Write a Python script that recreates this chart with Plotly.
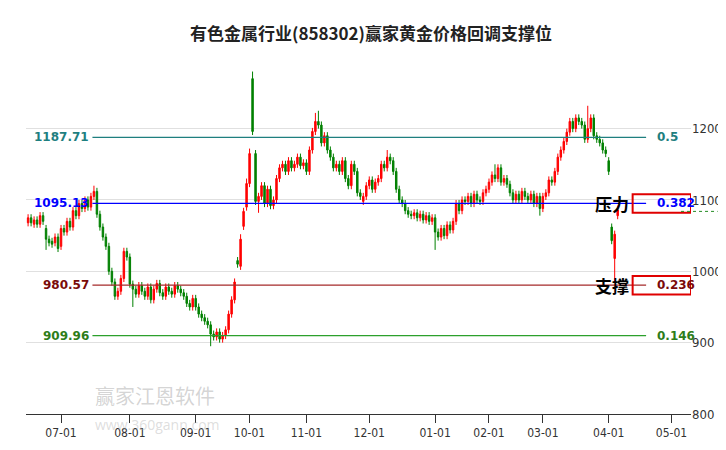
import plotly.graph_objects as go

title = "有色金属行业(858302)赢家黄金价格回调支撑位"

opens = [1068,1075,1066,1072,1066,1078,
         1060,1045,1042,1040,1048,
         1035,1060,1055,1070,
         1062,1085,1078,1095,1088,1100,
         1090,1105,1112,
         1080,1062,1048,1035,
         1000,985,965,972,990,1028,1020,
         982,975,968,980,972,965,978,960,975,983,970,965,978,972,968,980,975,
         970,965,955,950,
         962,950,940,935,930,
         925,912,908,915,905,910,
         918,940,960,1015,
         1007,1063,1090,1123,
         1270,1165,
         1098,1105,1120,1095,1115,
         1092,1100,1130,1145,1150,1140,1155,
         1145,1150,1160,1148,1152,
         1140,1170,1196,1210,1205,1180,
         1190,1170,1160,1145,1150,
         1140,1155,1130,1120,1150,1140,1110,
         1098,1105,1120,1128,1115,1125,
         1130,1150,1145,1160,
         1155,1140,1115,1100,1095,
         1085,1080,1078,1082,1075,1080,1072,1078,1070,
         1075,1055,1048,1060,1050,1065,
         1058,1070,1095,1085,1100,
         1098,1105,1095,1108,1100,1098,
         1110,1115,1125,1135,1130,
         1145,1125,1130,
         1122,1110,1100,1108,1100,1112,1105,1100,1108,1095,
         1105,
         1088,1105,1110,1128,
         1125,1140,1160,1170,
         1182,1195,1210,1200,1215,
         1210,1205,1185,1200,1215,
         1190,1185,1180,1170,
         1155,
         1062,
         1018,
         1078]

closes = [1075,1068,1072,1066,1078,1070,
          1045,1040,1038,1048,1032,
          1060,1055,1070,1062,
          1085,1078,1095,1088,1100,1090,
          1105,1112,1080,
          1062,1048,1035,1000,
          985,965,972,990,1028,1020,982,
          975,968,980,972,965,978,960,975,983,970,965,978,972,968,980,975,970,
          965,955,950,962,
          950,940,935,930,925,
          912,908,915,905,910,918,
          940,960,985,1010,
          1045,1084,1123,1165,
          1196,1098,
          1105,1120,1095,1115,1092,
          1100,1130,1145,1150,1140,1155,1145,
          1150,1160,1148,1152,1140,
          1170,1196,1210,1205,1180,1190,
          1170,1160,1145,1150,1140,
          1155,1130,1120,1150,1140,1110,1105,
          1105,1120,1128,1115,1125,1130,
          1150,1145,1160,1155,
          1140,1115,1100,1095,1085,
          1080,1078,1082,1075,1080,1072,1078,1070,1075,
          1055,1048,1060,1050,1065,1058,
          1070,1095,1085,1100,1098,
          1105,1095,1108,1100,1098,1110,
          1115,1125,1135,1130,1145,
          1125,1130,1122,
          1110,1100,1108,1100,1112,1105,1100,1108,1095,1105,
          1088,
          1105,1110,1128,1125,
          1140,1160,1170,1182,
          1195,1210,1200,1215,1210,
          1205,1185,1200,1215,1190,
          1185,1180,1170,1165,
          1140,
          1043,
          1052,
          1086]

# wick extremes that stand out; other candles get a short wick
special_highs = {22: 1120, 71: 1052, 73: 1130, 74: 1172, 75: 1280, 96: 1222, 97: 1225, 120: 1170, 156: 1150, 187: 1232, 197: 1092}
special_lows = {6: 1030, 35: 950, 61: 895, 77: 1082, 136: 1030, 171: 1078, 196: 985}

tick_pos = [11, 34, 56, 74, 93, 114, 136, 154, 172, 194, 215]
tick_text = ["07-01", "08-01", "09-01", "10-01", "11-01", "12-01", "01-01", "02-01", "03-01", "04-01", "05-01"]

levels = [1187.71, 1095.13, 980.57, 909.96]
ratios = ["0.5", "0.382", "0.236", "0.146"]
level_colors = ["#1f7f7f", "#0000ff", "#a52a2a", "#2ca02c"]
label_colors = ["#1f7f7f", "#0000ff", "#7a0a0a", "#2e7d1a"]
boxed = [False, True, True, False]
level_names = {1: "压力", 2: "支撑"}
last_price = 1084

n = len(closes)
xs = list(range(n))
highs = [special_highs.get(i, max(o, c) + 5) for i, (o, c) in enumerate(zip(opens, closes))]
lows = [special_lows.get(i, min(o, c) - 5) for i, (o, c) in enumerate(zip(opens, closes))]

fig = go.Figure()
fig.add_trace(go.Candlestick(
    x=xs, open=opens, high=highs, low=lows, close=closes,
    increasing=dict(line=dict(color="#ff0000", width=1), fillcolor="#ff0000"),
    decreasing=dict(line=dict(color="#008000", width=1), fillcolor="#008000"),
    whiskerwidth=0, showlegend=False, hoverinfo="skip"))

for i, (lv, r) in enumerate(zip(levels, ratios)):
    fig.add_shape(type="line", x0=21.5, x1=206.5, y0=lv, y1=lv,
                  line=dict(color=level_colors[i], width=1.2))
    fig.add_annotation(x=21, y=lv, text="<b>%.2f</b>" % lv, showarrow=False,
                       xanchor="right", font=dict(size=12, color=label_colors[i], family="DejaVu Sans"))
    fig.add_annotation(x=209.5, y=lv, text="<b>%s</b>" % r, showarrow=False, xanchor="left",
                       font=dict(size=12, color=label_colors[i], family="DejaVu Sans"))
    if boxed[i]:
        fig.add_shape(type="rect", x0=202, x1=221.5, y0=lv - 13, y1=lv + 13,
                      line=dict(color="#e00000", width=2))
    if i in level_names:
        fig.add_annotation(x=201.5, y=lv, text="<b>%s</b>" % level_names[i], showarrow=False,
                           xanchor="right", font=dict(size=17, color="black", family="Noto Sans CJK SC"))

fig.add_shape(type="line", xref="paper", x0=0.985, x1=1.04, y0=last_price, y1=last_price,
              line=dict(color="#228b22", width=1, dash="dot"))

fig.add_annotation(xref="paper", yref="paper", x=0.1, y=0.005, text="赢家江恩软件", showarrow=False,
                   font=dict(size=20, color="rgba(160,160,160,0.45)", family="Noto Sans CJK SC"), xanchor="left")
fig.add_annotation(xref="paper", yref="paper", x=0.1, y=-0.06, text="www.360gann.com", showarrow=False,
                   font=dict(size=14, color="rgba(170,170,170,0.4)"), xanchor="left")

fig.update_layout(
    width=726, height=450,
    title=dict(text="<b>%s</b>" % title, x=0.5, y=0.955, font=dict(size=17, color="#222", family="Noto Sans CJK SC")),
    margin=dict(l=18, r=26, t=35, b=44),
    plot_bgcolor="white", paper_bgcolor="white",
    xaxis=dict(range=[-0.7, 221.5], tickvals=tick_pos, ticktext=tick_text, showgrid=False,
               rangeslider=dict(visible=False), ticks="outside", ticklen=8, tickcolor="#333",
               showline=True, linecolor="#333", zeroline=False,
               tickfont=dict(size=12, color="#333", family="Liberation Sans Narrow, DejaVu Sans Condensed")),
    yaxis=dict(range=[800, 1320], side="right", tickvals=[800, 900, 1000, 1100, 1200],
               showgrid=True, gridcolor="#e0e0e0", zeroline=False, ticks="",
               tickfont=dict(size=13, color="#333", family="Liberation Sans Narrow, DejaVu Sans Condensed")),
)

fig.write_html("out.html")
